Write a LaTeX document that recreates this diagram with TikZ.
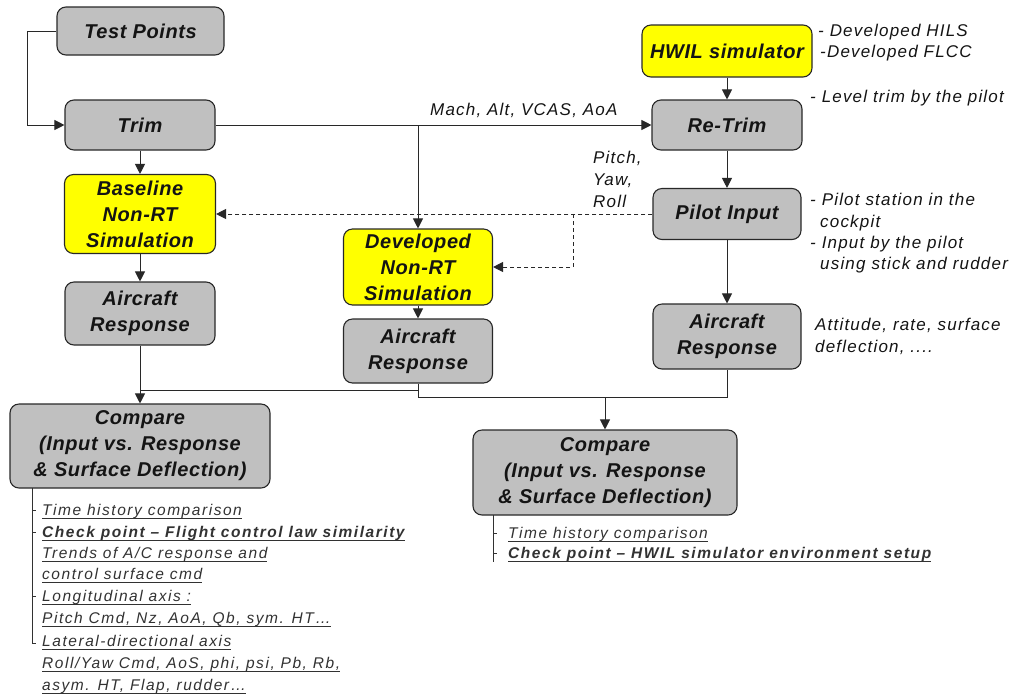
\documentclass[tikz,border=0pt]{standalone}
\usepackage{fontspec}
\setmainfont{Liberation Sans}
\newfontfamily\boxfont[LetterSpace=3]{Liberation Sans}
\newfontfamily\annfont[LetterSpace=7]{Liberation Sans}
\newfontfamily\bulfont[LetterSpace=10]{Liberation Sans}
\usetikzlibrary{arrows.meta}
\definecolor{boxgray}{RGB}{192,192,192}
\definecolor{boxyellow}{RGB}{255,255,0}
\definecolor{edgecol}{RGB}{40,40,40}
\definecolor{txtcol}{RGB}{20,20,20}
\definecolor{bulcol}{RGB}{50,50,50}
\newcommand{\ulx}[1]{\underline{\raisebox{0pt}[\height][2.2pt]{#1}}}
\begin{document}
\begin{tikzpicture}[x=1pt,y=-1pt,
 blk/.style={draw=edgecol, line width=1.1pt, rounded corners=9pt, fill=boxgray, align=center, inner sep=0pt, text=txtcol, font=\boxfont\bfseries\itshape\fontsize{20}{26}\selectfont},
 ybl/.style={blk, fill=boxyellow},
 ann/.style={anchor=base west, inner sep=0pt, text=txtcol, font=\annfont\itshape\fontsize{17}{22}\selectfont},
 bul/.style={anchor=base west, inner sep=0pt, text=bulcol, font=\bulfont\itshape\fontsize{15.5}{20}\selectfont},
 conn/.style={draw=edgecol, line width=1pt},
 arr/.style={conn, -{Triangle[length=10pt,width=10pt]}},
 dsh/.style={arr, dash pattern=on 4pt off 3pt},
 tick/.style={draw=bulcol, line width=0.8pt}
]
\fill[white] (0,0) rectangle (1024,697);
\useasboundingbox (0,0) rectangle (1024,697);

% boxes
\node[blk, minimum width=167pt, minimum height=48pt] (tp) at (140.5,31) {Test Points};
\node[blk, minimum width=150pt, minimum height=50pt] (trim) at (140,125) {Trim};
\node[ybl, minimum width=151pt, minimum height=79pt] (base) at (140,214) {Baseline\\Non-RT\\Simulation};
\node[blk, minimum width=150pt, minimum height=63pt] (arL) at (140,313.5) {Aircraft\\Response};
\node[ybl, minimum width=149pt, minimum height=76pt] (dev) at (418,267) {Developed\\Non-RT\\Simulation};
\node[blk, minimum width=149pt, minimum height=64pt] (arM) at (418,351) {Aircraft\\Response};
\node[ybl, minimum width=170pt, minimum height=52pt] (hwil) at (727,51) {HWIL simulator};
\node[blk, minimum width=150pt, minimum height=50pt] (retrim) at (727,125) {Re-Trim};
\node[blk, minimum width=148pt, minimum height=51pt] (pilot) at (727,214) {Pilot Input};
\node[blk, minimum width=148pt, minimum height=65pt] (arR) at (727,336.5) {Aircraft\\Response};
\node[blk, minimum width=260pt, minimum height=84pt] (cmpL) at (140,446) {Compare\\(Input vs. Response\\\& Surface Deflection)};
\node[blk, minimum width=264pt, minimum height=85pt] (cmpR) at (605,472.5) {Compare\\(Input vs. Response\\\& Surface Deflection)};

% connectors
\draw[arr] (tp.west) -- ++(-29,0) |- (trim.west);
\draw[arr] (trim.south) -- (base.north);
\draw[arr] (base.south) -- (arL.north);
\draw[arr] (trim.east) -- (retrim.west);
\coordinate (bj) at (418,125);
\draw[arr] (bj) -- (dev.north);
\draw[arr] (dev.south) -- (arM.north);
\draw[arr] (hwil.south) -- (retrim.north);
\draw[arr] (retrim.south) -- (pilot.north);
\draw[arr] (pilot.south) -- (arR.north);
\draw[arr] (arL.south) -- (cmpL.north);
\draw[dsh] (pilot.west) -- (base.east);
\coordinate (dj) at (573,214);
\draw[dsh] (dj) |- (dev.east);
\coordinate (mL) at (140,390);
\coordinate (mM) at (418,390);
\draw[conn] (mL) -- (mM);
\draw[conn] (arM.south) -- ++(0,14) -| (arR.south);
\coordinate (mR) at (605,397);
\draw[arr] (mR) -- (cmpR.north);

% edge labels
\node[ann] (lmach) at (430,115) {Mach, Alt, VCAS, AoA};
\node[ann] (lpitch) at (593,163) {Pitch,};
\node[ann] (lyaw) at (593,185) {Yaw,};
\node[ann] (lroll) at (593,207) {Roll};

% annotations
\node[ann] (a1) at (818,36) {- Developed HILS};
\node[ann] (a2) at (820,57) {-Developed FLCC};
\node[ann] (a3) at (810,102) {- Level trim by the pilot};
\node[ann] (a4) at (810,205) {- Pilot station in the};
\node[ann] (a5) at (820,227) {cockpit};
\node[ann] (a6) at (810,248) {- Input by the pilot};
\node[ann] (a7) at (820,269) {using stick and rudder};
\node[ann] (a8) at (815,330) {Attitude, rate, surface};
\node[ann] (a9) at (815,352) {deflection, ....};

% left bullet list
\draw[tick] (32,488) -- (32,643);
\foreach \yy in {510,532,596} \draw[tick] (32,\yy) -- (36,\yy);
\draw[tick] (32,643) -- (36,643);
\node[bul] (b1) at (42,515) {\ulx{Time history comparison}};
\node[bul] (b2) at (42,537) {\ulx{\bfseries Check point – Flight control law similarity}};
\node[bul] (b3) at (42,558) {\ulx{Trends of A/C response and}};
\node[bul] (b4) at (42,579) {\ulx{control surface cmd}};
\node[bul] (b5) at (42,601) {\ulx{Longitudinal axis :}};
\node[bul] (b6) at (42,623) {\ulx{Pitch Cmd, Nz, AoA, Qb, sym. HT…}};
\node[bul] (b7) at (42,646) {\ulx{Lateral-directional axis}};
\node[bul] (b8) at (42,668) {\ulx{Roll/Yaw Cmd, AoS, phi, psi, Pb, Rb,}};
\node[bul] (b9) at (42,690) {\ulx{asym. HT, Flap, rudder…}};

% right bullet list
\draw[tick] (493,515) -- (493,562);
\draw[tick] (493,533) -- (497,533);
\draw[tick] (493,553) -- (497,553);
\node[bul] (c1) at (508,538) {\ulx{Time history comparison}};
\node[bul] (c2) at (508,558) {\ulx{\bfseries Check point – HWIL simulator environment setup}};
\end{tikzpicture}
\end{document}
